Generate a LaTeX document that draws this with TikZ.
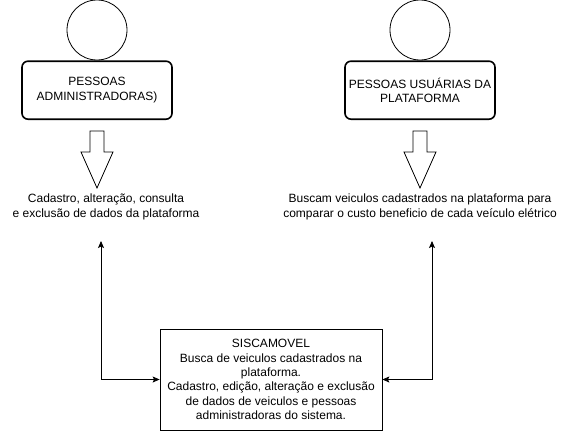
\documentclass[tikz,border=0pt]{standalone}
\usepackage{fontspec}
\setmainfont{Liberation Sans}
\usetikzlibrary{positioning, arrows.meta}

\begin{document}
\begin{tikzpicture}[x=1pt, y=-1pt,
    every node/.style={font=\fontsize{12}{14.4}\selectfont},
    head/.style={draw, circle, line width=0.8pt, minimum size=60pt, inner sep=0pt},
    actor/.style={draw, rounded corners=6pt, line width=1.6pt, minimum width=150pt, minimum height=58pt, align=center, inner sep=0pt},
    desc/.style={align=center, inner sep=0pt},
    sysbox/.style={draw, line width=0.8pt, minimum width=222pt, minimum height=101pt, align=center, inner sep=0pt},
    link/.style={{Stealth[length=7pt, width=6pt, inset=1.5pt]}-{Stealth[length=7pt, width=6pt, inset=1.5pt]}, line width=0.8pt}]
    \useasboundingbox (0,0) rectangle (571,431);
    % Administradores
    \node[head] (admhead) at (97,30) {};
    \node[actor] (adm) [below=0pt of admhead] {PESSOAS\\ADMINISTRADORAS)};
    \draw[line width=0.8pt] (90,131) -- (104,131) -- (104,152) -- (113,152) -- (97,188)
        -- (81,152) -- (90,152) -- cycle;
    \node[desc] (admtxt) at (106,207) {Cadastro, alteração, consulta\\e exclusão de dados da plataforma};
    % Usuarios
    \node[head] (usrhead) at (420,30) {};
    \node[actor] (usr) [below=0pt of usrhead] {PESSOAS USUÁRIAS DA\\PLATAFORMA};
    \draw[line width=0.8pt] (413,131) -- (427,131) -- (427,152) -- (436,152) -- (420,188)
        -- (404,152) -- (413,152) -- cycle;
    \node[desc] (usrtxt) at (420,207) {Buscam veiculos cadastrados na plataforma para\\comparar o custo beneficio de cada veículo elétrico};
    % Sistema
    \node[sysbox] (sys) at (271,379.5) {SISCAMOVEL\\Busca de veiculos cadastrados na\\plataforma.\\Cadastro, edição, alteração e exclusão\\de dados de veiculos e pessoas\\administradoras do sistema.};
    \coordinate (admend) at (101,241);
    \coordinate (usrend) at (432,241);
    \draw[link] (admend) |- (sys.west);
    \draw[link] (usrend) |- (sys.east);
\end{tikzpicture}
\end{document}
